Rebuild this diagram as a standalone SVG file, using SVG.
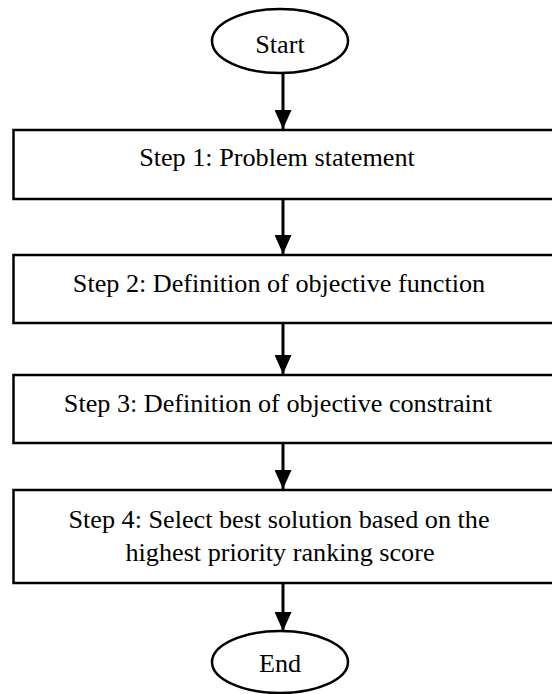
<svg xmlns="http://www.w3.org/2000/svg" width="552" height="694" viewBox="0 0 552 694">
<defs>
<marker id="ah" markerWidth="19" markerHeight="17" refX="19" refY="8.5" orient="auto" markerUnits="userSpaceOnUse">
<path d="M0,0 L19,8.5 L0,17 Z" fill="#000"/>
</marker>
<style>
.sh{fill:#fff;stroke:#000;stroke-width:2.5}
.t{font-family:"Liberation Serif","Times New Roman",serif;font-size:26.2px;fill:#000;text-anchor:middle}
.c{stroke:#000;stroke-width:3;fill:none}
</style>
</defs>
<rect width="552" height="694" fill="#fff"/>
<g id="connectors">
<line class="c" x1="283" y1="73" x2="283" y2="129" marker-end="url(#ah)"/>
<line class="c" x1="283" y1="199" x2="283" y2="254" marker-end="url(#ah)"/>
<line class="c" x1="283" y1="324" x2="283" y2="374" marker-end="url(#ah)"/>
<line class="c" x1="283" y1="443" x2="283" y2="489" marker-end="url(#ah)"/>
<line class="c" x1="283" y1="583" x2="283" y2="631" marker-end="url(#ah)"/>
</g>
<g id="start">
<ellipse class="sh" cx="280" cy="41" rx="68" ry="32"/>
<text class="t" x="280" y="53">Start</text>
</g>
<g id="step1">
<rect class="sh" x="13.5" y="130" width="560" height="69"/>
<text class="t" x="277" y="166">Step 1: Problem statement</text>
</g>
<g id="step2">
<rect class="sh" x="13.5" y="255" width="560" height="68"/>
<text class="t" x="279" y="292">Step 2: Definition of objective function</text>
</g>
<g id="step3">
<rect class="sh" x="13.5" y="375" width="560" height="68"/>
<text class="t" x="278" y="412">Step 3: Definition of objective constraint</text>
</g>
<g id="step4">
<rect class="sh" x="13.5" y="490" width="560" height="93"/>
<text class="t" x="279" y="528">Step 4: Select best solution based on the</text>
<text class="t" x="280" y="561">highest priority ranking score</text>
</g>
<g id="end">
<ellipse class="sh" cx="280" cy="662" rx="68" ry="31"/>
<text class="t" x="280" y="672">End</text>
</g>
</svg>
